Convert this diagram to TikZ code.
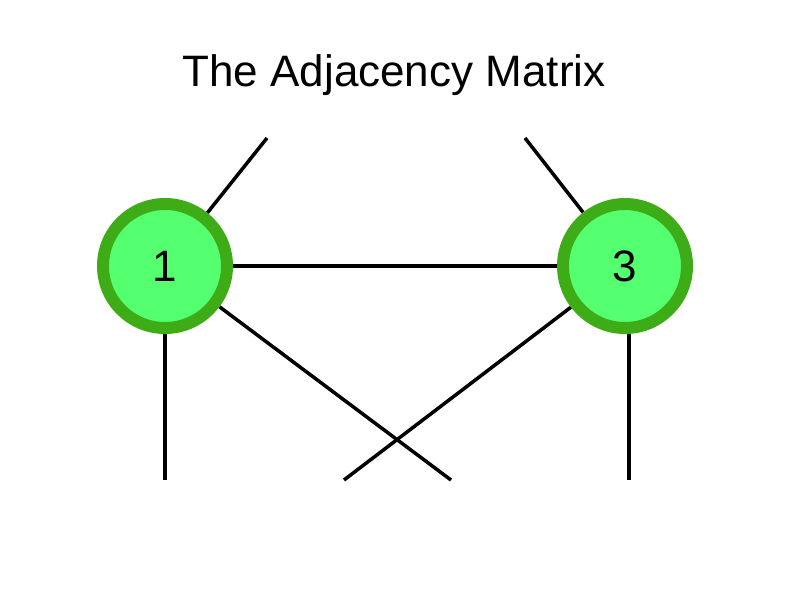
\documentclass[tikz,border=0pt]{standalone}
\usepackage{fontspec}
\setmainfont{Liberation Sans}
\usepackage{tikz}
\usetikzlibrary{backgrounds}
\definecolor{vfill}{RGB}{84,255,112}
\definecolor{vring}{RGB}{62,172,22}

\begin{document}
\begin{tikzpicture}[x=1pt,y=-1pt]
\tikzstyle{vertex}=[circle,draw=vring,fill=vfill,line width=12pt,minimum size=124pt,inner sep=0pt,font=\fontsize{44}{44}\selectfont]
\tikzstyle{edge}=[line width=3.5pt,black]
\useasboundingbox (0,0) rectangle (794,595);

\node[anchor=base] (title) at (394,86) {\fontsize{44}{44}\selectfont The Adjacency Matrix};

\node[vertex] (1) at (165,266) {1};
\node[vertex] (3) at (625,266) {3};

% the rest of the graph is cut off, edges end at the crop
\coordinate (top1) at (267,138);
\coordinate (top3) at (525,138);
\coordinate (bot1) at (165,480);
\coordinate (bot3) at (629,480);
\coordinate (botx1) at (451,480);
\coordinate (botx3) at (344,480);

\begin{pgfonlayer}{background}
\draw[edge] (1) -- (3);
\draw[edge] (1) -- (top1);
\draw[edge] (3) -- (top3);
\draw[edge] (1) -- (bot1);
\draw[edge] (3.center) ++(4,0) coordinate (3v) (3v) -- (bot3);
\draw[edge] (1) -- (botx1);
\draw[edge] (3) -- (botx3);
\end{pgfonlayer}
\end{tikzpicture}
\end{document}
